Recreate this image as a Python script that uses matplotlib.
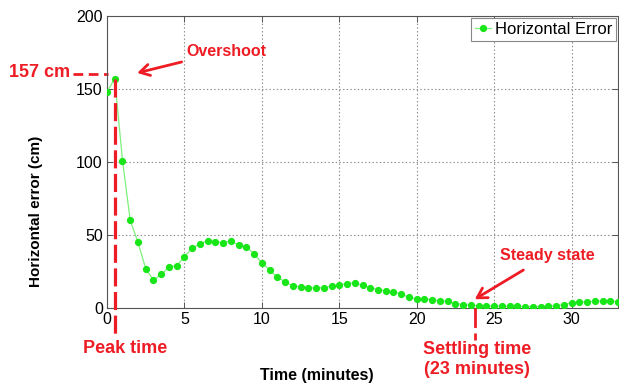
"""
Horizontal error over time, with overshoot / settling annotations.
"""

import matplotlib
matplotlib.use("Agg")
import matplotlib.pyplot as plt

plt.rcParams["font.family"] = ["Liberation Sans", "DejaVu Sans"]
plt.rcParams["lines.scale_dashes"] = False

c_red = "#ee1c24"
c_green = "#19e619"
c_line = "#7df07d"

time_min = [0.0, 0.5, 1.0, 1.5, 2.0, 2.5, 3.0, 3.5, 4.0, 4.5,
            5.0, 5.5, 6.0, 6.5, 7.0, 7.5, 8.0, 8.5, 9.0, 9.5,
            10.0, 10.5, 11.0, 11.5, 12.0, 12.5, 13.0, 13.5, 14.0, 14.5,
            15.0, 15.5, 16.0, 16.5, 17.0, 17.5, 18.0, 18.5, 19.0, 19.5,
            20.0, 20.5, 21.0, 21.5, 22.0, 22.5, 23.0, 23.5, 24.0, 24.5,
            25.0, 25.5, 26.0, 26.5, 27.0, 27.5, 28.0, 28.5, 29.0, 29.5,
            30.0, 30.5, 31.0, 31.5, 32.0, 32.5, 33.0]
horiz_err = [148, 157, 101, 60, 45, 27, 19, 23, 28, 29,
             35, 41, 44, 46, 45.5, 44.5, 46, 43, 42, 37,
             31, 26, 21, 18, 15, 14.5, 14, 13.5, 14, 14.8,
             15.8, 16.6, 17.4, 15.5, 13.9, 12.6, 11.6, 11, 9.8, 7.2,
             6.3, 6.2, 5.6, 4.9, 4.5, 3.0, 2.3, 1.9, 1.6, 1.5,
             1.4, 1.3, 1.1, 1.1, 0.9, 0.9, 0.9, 1.1, 1.6, 2.3,
             3.7, 4.1, 4.3, 4.6, 4.8, 4.8, 4.3]

peak_t, peak_val = 0.5, 157
settle_t = 23.75

fig = plt.figure(figsize=(6.19, 3.83), dpi=100)
ax = fig.add_axes([107 / 619, 1 - 308 / 383, 511 / 619, 292 / 383])

ax.plot(time_min, horiz_err, color=c_line, lw=0.9, marker="o", markersize=4.2,
        markerfacecolor=c_green, markeredgecolor=c_green, label="Horizontal Error", zorder=3)

ax.set_xlim(0, 33)
ax.set_ylim(0, 200)
ax.set_xticks([0, 5, 10, 15, 20, 25, 30])
ax.set_yticks([0, 50, 100, 150, 200])
ax.grid(True, linestyle=":", color="#8c8c8c", lw=0.8)
for s in ax.spines.values():
    s.set_color("#555555")
    s.set_linewidth(0.8)
ax.tick_params(direction="in", length=4, width=0.7, color="#555555",
               labelsize=11.5, pad=3, top=True, right=True)

ax.set_ylabel("Horizontal error (cm)", fontsize=11, fontweight="bold")
ax.yaxis.set_label_coords(-0.125, 0.33)
ax.set_xlabel("Time (minutes)", fontsize=11.5, fontweight="bold")
ax.xaxis.set_label_coords(0.41, -0.205)

leg = ax.legend(loc="upper right", fontsize=12, fancybox=False, framealpha=1,
                borderpad=0.25, handlelength=1.0, handletextpad=0.2,
                borderaxespad=0.1, edgecolor="#888888")
leg.get_frame().set_linewidth(0.8)

# peak time / overshoot
ax.plot([peak_t, peak_t], [peak_val, -20], color=c_red, lw=2.3, dashes=(13, 4),
        clip_on=False, zorder=4)
ax.plot([-2.2, 0.05], [160, 160], color=c_red, lw=2.0, dashes=(7, 4), clip_on=False)
ax.text(-6.3, 161, "157 cm", color=c_red, fontsize=13, fontweight="bold",
        ha="left", va="center", clip_on=False)
ax.annotate("Overshoot", xy=(1.95, 161), xytext=(5.1, 176), color=c_red,
            fontsize=11.5, fontweight="bold", ha="left", va="center",
            arrowprops=dict(arrowstyle="->,head_length=0.6,head_width=0.35",
                            color=c_red, lw=2, shrinkA=2, shrinkB=0))
ax.text(-1.55, -28, "Peak time", color=c_red, fontsize=13, fontweight="bold",
        ha="left", va="center", clip_on=False)

# settling time / steady state
ax.plot([settle_t, settle_t], [0, -22], color=c_red, lw=2.0, dashes=(14, 4),
        clip_on=False, zorder=4)
ax.annotate("Steady state", xy=(settle_t, 6), xytext=(25.4, 36), color=c_red,
            fontsize=11.5, fontweight="bold", ha="left", va="center",
            arrowprops=dict(arrowstyle="->,head_length=0.6,head_width=0.35",
                            color=c_red, lw=2, shrinkA=6, shrinkB=0))
ax.text(23.9, -35.5, "Settling time\n(23 minutes)", color=c_red, fontsize=13,
        fontweight="bold", ha="center", va="center", linespacing=1.25, clip_on=False)

fig.savefig("out.png", dpi=100)
